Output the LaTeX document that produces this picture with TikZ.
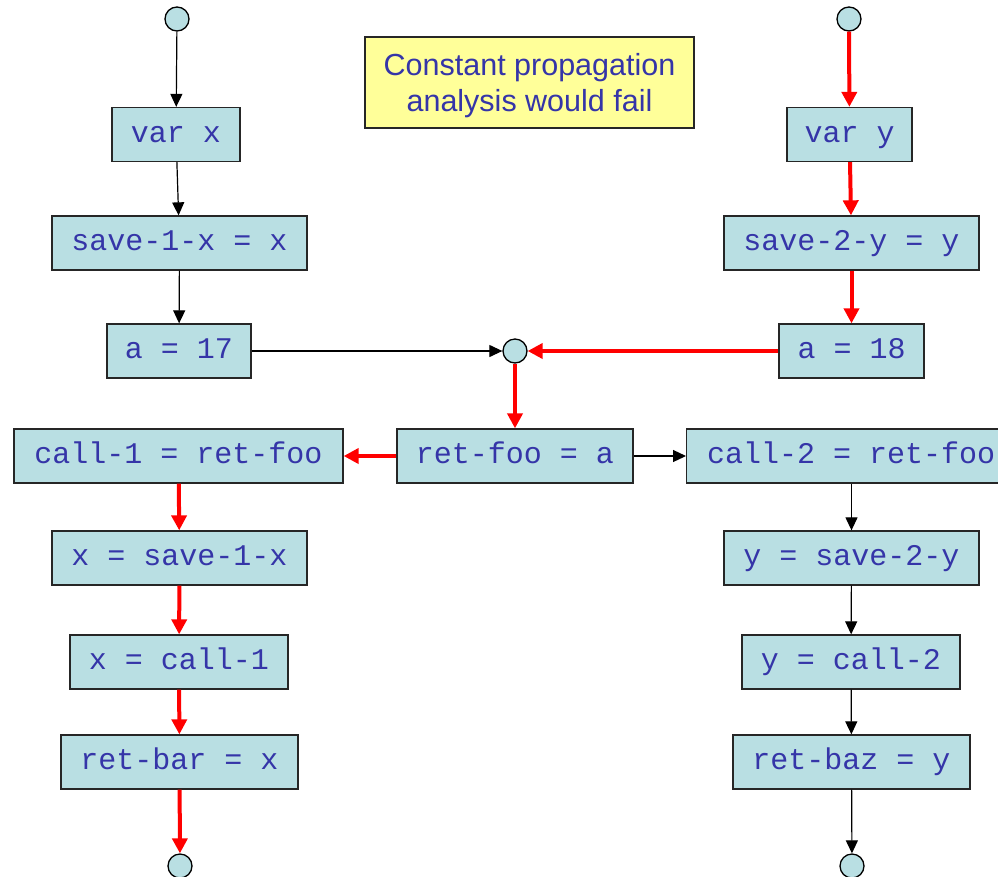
\documentclass[tikz,border=0pt]{standalone}
\usepackage{fontspec}
\setmainfont{Liberation Sans}
\newfontfamily\codefont{Liberation Mono}
\usetikzlibrary{arrows.meta}
\definecolor{boxfill}{HTML}{B9DFE3}
\definecolor{codeblue}{HTML}{3535A8}
\definecolor{noteyellow}{HTML}{FFFF99}
\definecolor{flowred}{HTML}{FF0000}
\tikzset{
  stmt/.style={draw=black!85, line width=1.3pt, fill=boxfill, text=codeblue,
    font=\codefont\fontsize{30}{32}\selectfont, inner sep=0pt, minimum height=54pt,
    text height=21pt, text depth=6pt},
  pt/.style={draw=black, line width=1.3pt, fill=boxfill, circle, minimum size=24pt, inner sep=0pt},
  notebox/.style={draw=black!85, line width=1.3pt, fill=noteyellow, inner sep=0pt,
    minimum width=329pt, minimum height=91pt},
  notetext/.style={text=codeblue, font=\fontsize{30.5}{36}\selectfont, align=center, inner sep=0pt},
  blk/.style={draw=black, line width=1.2pt, -{Triangle[length=13pt,width=12pt]}},
  hot/.style={draw=flowred, line width=4pt, -{Triangle[length=15pt,width=15pt]}}
}
\begin{document}
\begin{tikzpicture}[x=1pt,y=-1pt]
\useasboundingbox (0,0) rectangle (998,876);
\clip (0,0) rectangle (998,876);
\fill[white] (0,0) rectangle (998,876);
% note
\node[notebox] (note) at (529.5,82.5) {};
\node[notetext, yshift=-3.5pt] (notetxt) at (note.center) {Constant propagation\\analysis would fail};
% left column
\node[pt] (cl0) at (177,19) {};
\node[stmt, minimum width=128pt] (varx) at (176,134.5) {var x};
\node[stmt, minimum width=255pt] (sav1) at (179.5,243) {save-1-x = x};
\node[stmt, minimum width=144pt] (a17) at (179,351) {a = 17};
\node[stmt, minimum width=329pt] (call1) at (178.5,456) {call-1 = ret-foo};
\node[stmt, minimum width=255pt] (xs1) at (179.5,558) {x = save-1-x};
\node[stmt, minimum width=218pt] (xc1) at (179,662) {x = call-1};
\node[stmt, minimum width=237pt] (rbar) at (179.5,762) {ret-bar = x};
\node[pt] (cl1) at (180,866) {};
% middle
\node[pt] (mrg) at (515,351) {};
\node[stmt, minimum width=236pt] (rfoo) at (515,456) {ret-foo = a};
% right column
\node[pt] (cr0) at (849,19) {};
\node[stmt, minimum width=125pt] (vary) at (849.5,134.5) {var y};
\node[stmt, minimum width=255pt] (sav2) at (851.5,243) {save-2-y = y};
\node[stmt, minimum width=145pt] (a18) at (851.5,351) {a = 18};
\node[stmt, minimum width=329pt, anchor=west] (call2) at (686,456) {call-2 = ret-foo};
\node[stmt, minimum width=255pt] (ys2) at (851.5,558) {y = save-2-y};
\node[stmt, minimum width=218pt] (yc2) at (851,662) {y = call-2};
\node[stmt, minimum width=237pt] (rbaz) at (851.5,762) {ret-baz = y};
\node[pt] (cr1) at (852,866) {};
% left black edges
\draw[blk] (cl0) -- (varx);
\draw[blk] (varx) -- (sav1);
\draw[blk] (sav1) -- (a17);
\draw[blk] (a17) -- (mrg);
% right red edges
\draw[hot] (cr0) -- (vary);
\draw[hot] (vary) -- (sav2);
\draw[hot] (sav2) -- (a18);
\draw[hot] (a18) -- (mrg);
% middle
\draw[hot] (mrg) -- (rfoo);
\draw[hot] (rfoo) -- (call1);
\draw[blk] (rfoo) -- (call2);
% left red chain
\draw[hot] (call1) -- (xs1);
\draw[hot] (xs1) -- (xc1);
\draw[hot] (xc1) -- (rbar);
\draw[hot] (rbar) -- (cl1);
% right black chain
\draw[blk] (call2.south -| ys2.north) -- (ys2);
\draw[blk] (ys2) -- (yc2);
\draw[blk] (yc2) -- (rbaz);
\draw[blk] (rbaz) -- (cr1);
\end{tikzpicture}
\end{document}
